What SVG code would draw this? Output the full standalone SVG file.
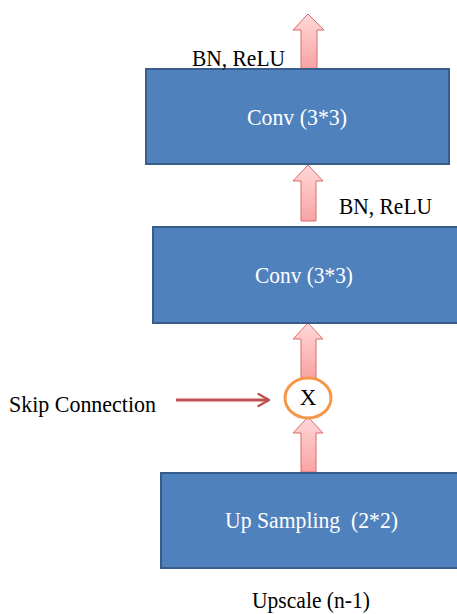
<svg xmlns="http://www.w3.org/2000/svg" width="457" height="614" viewBox="0 0 457 614">
<defs>
<linearGradient id="ag" x1="0" y1="0" x2="0" y2="1">
<stop offset="0" stop-color="#FFD8D8"/>
<stop offset="1" stop-color="#F9A3A3"/>
</linearGradient>
<marker id="skipHead" viewBox="0 0 10 10" refX="8" refY="5" markerWidth="5" markerHeight="5" orient="auto" markerUnits="strokeWidth">
<path d="M1,1 L8,5 L1,9" fill="none" stroke="#C0504D" stroke-width="1.6" stroke-linecap="round" stroke-linejoin="round"/>
</marker>
</defs>
<style>
.box{fill:#4F81BD;stroke:#385D8A;stroke-width:2}
.arr{fill:url(#ag);stroke:#D96B6B;stroke-width:1}
.t{font-family:"Liberation Serif","Times New Roman",serif;font-size:23px}
.w{fill:#FFFFFF}
.k{fill:#000000}
</style>
<rect width="457" height="614" fill="#FFFFFF"/>
<g id="connectors">
<path class="arr" d="M308,14 L324,30 L317,30 L317,69 L301,69 L301,30 L293,30 Z"/>
<path class="arr" d="M308,165 L323,181 L316,181 L316,221 L301,221 L301,181 L293,181 Z"/>
<path class="arr" d="M308,323 L323,339 L316,339 L316,378 L301,378 L301,339 L293,339 Z"/>
<path class="arr" d="M308,417 L323,433 L316,433 L316,472 L301,472 L301,433 L293,433 Z"/>
<line x1="176" y1="400" x2="269" y2="400" stroke="#C0504D" stroke-width="3" marker-end="url(#skipHead)"/>
</g>
<g id="conv2">
<rect class="box" x="146" y="69" width="303" height="95"/>
<text class="t w" x="297" y="125" text-anchor="middle" textLength="100" lengthAdjust="spacingAndGlyphs">Conv (3*3)</text>
</g>
<g id="label-bn-relu-top">
<text class="t k" x="192" y="66" textLength="93" lengthAdjust="spacingAndGlyphs">BN, ReLU</text>
</g>
<g id="label-bn-relu-mid">
<text class="t k" x="339" y="214" textLength="93" lengthAdjust="spacingAndGlyphs">BN, ReLU</text>
</g>
<g id="conv1">
<rect class="box" x="153" y="227" width="305" height="96"/>
<text class="t w" x="304" y="283" text-anchor="middle" textLength="98" lengthAdjust="spacingAndGlyphs">Conv (3*3)</text>
</g>
<g id="multiply">
<ellipse cx="308" cy="398" rx="23" ry="20" fill="#FFFFFF" stroke="#F79646" stroke-width="3"/>
<text class="t k" x="308" y="405" text-anchor="middle">X</text>
</g>
<g id="skip-label">
<text class="t k" x="9" y="412" textLength="147" lengthAdjust="spacingAndGlyphs">Skip Connection</text>
</g>
<g id="upsampling">
<rect class="box" x="161" y="473" width="300" height="95"/>
<text class="t w" x="225" y="528" textLength="173" lengthAdjust="spacingAndGlyphs" xml:space="preserve">Up Sampling  (2*2)</text>
</g>
<g id="upscale-label">
<text class="t k" x="252" y="608" textLength="118" lengthAdjust="spacingAndGlyphs">Upscale (n-1)</text>
</g>
</svg>
